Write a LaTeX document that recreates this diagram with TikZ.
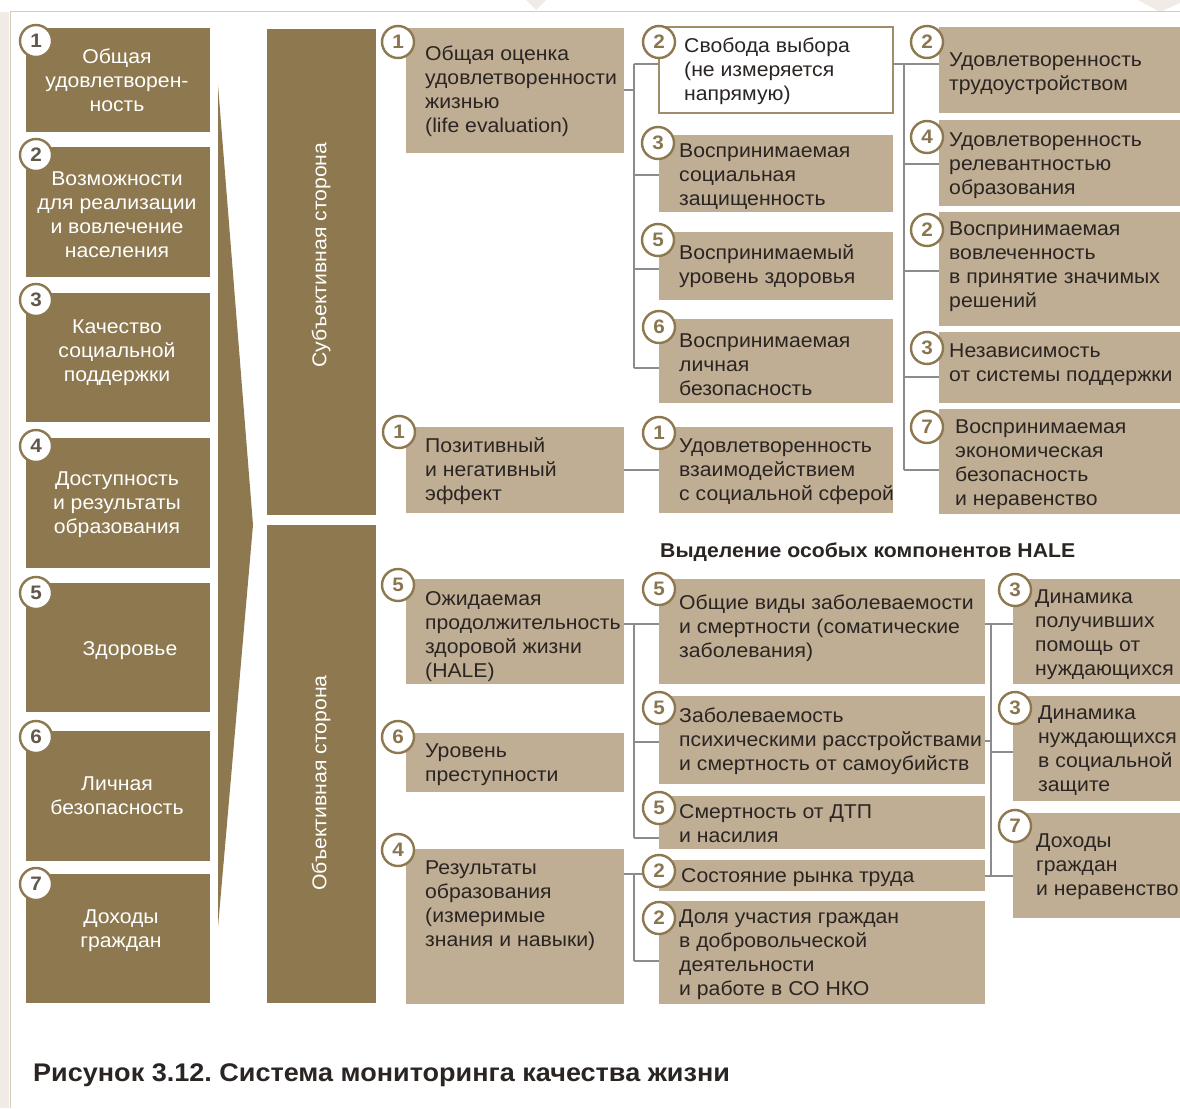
\documentclass[tikz,border=0pt]{standalone}
\usepackage{fontspec}
\setmainfont{Liberation Sans}[FakeStretch=1.06]
\frenchspacing
\definecolor{dkb}{HTML}{8D784F}
\definecolor{ltb}{HTML}{BFAE94}
\definecolor{txt}{HTML}{2A2522}
\definecolor{lnc}{HTML}{8C8C8C}
\definecolor{frm}{HTML}{D6CCBC}
\definecolor{strip}{HTML}{F0ECE5}
\definecolor{bnum}{HTML}{8A7551}
\definecolor{bnumd}{HTML}{62574A}
\definecolor{wbord}{HTML}{A08C66}
\tikzset{
 lbox/.style={fill=ltb, inner sep=0pt, outer sep=0pt},
 dbox/.style={fill=dkb, inner sep=0pt, outer sep=0pt},
 wbox/.style={fill=white, draw=wbord, line width=1.3pt, inner sep=0pt, outer sep=0pt},
 ltext/.style={inner sep=0pt, align=left, text=txt, font=\fontsize{20}{24}\selectfont},
 dtext/.style={inner sep=0pt, align=center, text=white, font=\fontsize{20}{24}\selectfont},
 badge/.style={circle, draw=dkb, line width=2.4pt, fill=white, minimum size=32pt, inner sep=0pt, text=bnum, font=\bfseries\fontsize{19.5}{19.5}\selectfont},
 dbadge/.style={badge, text=bnumd},
 tree/.style={draw=lnc, line width=1.1pt},
 ttl/.style={anchor=base west, inner sep=0pt, text=txt},
}
\newcommand\bx[6][lbox]{\node[#1, minimum width={(#5-#3)*1pt}, minimum height={(#6-#4)*1pt}, anchor=north west] (#2) at (#3,#4) {};}
\newcommand\tx[5][ltext]{\node[#1, anchor=north west] (#2) at (#3,{#4-16}) {\rule{0pt}{16pt}#5};}
\begin{document}
\begin{tikzpicture}[x=1pt, y=-1pt]
\useasboundingbox (0,0) rectangle (1180,1108);
% frame
\fill[strip] (0,12) rectangle (9,1108);
\fill[strip] (526,0) -- (546,0) -- (536,10) -- cycle;
\fill[strip] (1138,0) -- (1180,0) -- (1180,3) -- (1160,12) -- cycle;
\draw[frm, line width=1pt] (10,1108) -- (10,12) -- (1180,12);

% left column
\bx[dbox]{L1}{26}{28}{210}{132}
\bx[dbox]{L2}{26}{147}{210}{277}
\bx[dbox]{L3}{26}{293}{210}{422}
\bx[dbox]{L4}{26}{438}{210}{568}
\bx[dbox]{L5}{26}{583}{210}{712}
\bx[dbox]{L6}{26}{731}{210}{861}
\bx[dbox]{L7}{26}{874}{210}{1003}
\node[dtext] (L1t) at (117,80) {Общая\\удовлетворен-\\ность};
\node[dtext] (L2t) at (117,215) {Возможности\\для реализации\\и вовлечение\\населения};
\node[dtext] (L3t) at (117,353) {Качество\\социальной\\поддержки};
\node[dtext] (L4t) at (117,505) {Доступность\\и результаты\\образования};
\node[dtext] (L5t) at (130,651) {Здоровье};
\node[dtext] (L6t) at (117,796) {Личная\\безопасность};
\node[dtext] (L7t) at (121,931) {Доходы\\граждан};
\node[dbadge] (L1b) at (36,41) {1};
\node[dbadge] (L2b) at (36,155) {2};
\node[dbadge] (L3b) at (36,300) {3};
\node[dbadge] (L4b) at (36,446) {4};
\node[dbadge] (L5b) at (36,593) {5};
\node[dbadge] (L6b) at (36,737) {6};
\node[dbadge] (L7b) at (36,884) {7};

% arrow
\fill[dkb] (218,85) -- (253,525) -- (218,927) -- cycle;

% side bars
\bx[dbox]{S1}{267}{29}{376}{515}
\bx[dbox]{S2}{267}{525}{376}{1003}
\node[dtext, rotate=90] (S1t) at (321,255) {Субъективная сторона};
\node[dtext, rotate=90] (S2t) at (321,783) {Объективная сторона};

% column 2
\bx{B1}{406}{28}{624}{153}
\bx{B2}{406}{427}{624}{513}
\bx{B3}{406}{579}{624}{684}
\bx{B4}{406}{733}{624}{792}
\bx{B5}{406}{849}{624}{1004}
\tx{B1t}{425}{60}{Общая оценка\\удовлетворенности\\жизнью\\(life evaluation)}
\tx{B2t}{425}{452}{Позитивный\\и негативный\\эффект}
\tx{B3t}{425}{605}{Ожидаемая\\продолжительность\\здоровой жизни\\(HALE)}
\tx{B4t}{425}{757}{Уровень\\преступности}
\tx{B5t}{425}{874}{Результаты\\образования\\(измеримые\\знания и навыки)}

% column 3 (top)
\bx[wbox]{C1}{659}{27}{893}{113}
\bx{C2}{659}{135}{893}{212}
\bx{C3}{659}{232}{893}{300}
\bx{C4}{659}{319}{893}{403}
\bx{C5}{659}{427}{893}{513}
\tx{C1t}{684}{52}{Свобода выбора\\(не измеряется\\напрямую)}
\tx{C2t}{679}{157}{Воспринимаемая\\социальная\\защищенность}
\tx{C3t}{679}{259}{Воспринимаемый\\уровень здоровья}
\tx{C4t}{679}{347}{Воспринимаемая\\личная\\безопасность}
\tx{C5t}{679}{452}{Удовлетворенность\\взаимодействием\\с социальной сферой}

% column 4 (top)
\bx{D1}{939}{27}{1180}{113}
\bx{D2}{939}{120}{1180}{206}
\bx{D3}{939}{212}{1180}{326}
\bx{D4}{939}{332}{1180}{403}
\bx{D5}{939}{409}{1180}{514}
\tx{D1t}{949}{66}{Удовлетворенность\\трудоустройством}
\tx{D2t}{949}{146}{Удовлетворенность\\релевантностью\\образования}
\tx{D3t}{949}{235}{Воспринимаемая\\вовлеченность\\в принятие значимых\\решений}
\tx{D4t}{949}{357}{Независимость\\от системы поддержки}
\tx{D5t}{955}{433}{Воспринимаемая\\экономическая\\безопасность\\и неравенство}

% HALE title
\node[ttl, font=\bfseries\fontsize{20}{24}\selectfont] (hale) at (660,557) {Выделение особых компонентов HALE};

% column 3 (bottom)
\bx{E1}{659}{579}{985}{684}
\bx{E2}{659}{696}{985}{784}
\bx{E3}{659}{796}{985}{849}
\bx{E4}{659}{860}{985}{891}
\bx{E5}{659}{901}{985}{1004}
\tx{E1t}{679}{609}{Общие виды заболеваемости\\и смертности (соматические\\заболевания)}
\tx{E2t}{679}{722}{Заболеваемость\\психическими расстройствами\\и смертность от самоубийств}
\tx{E3t}{679}{818}{Смертность от ДТП\\и насилия}
\tx{E4t}{681}{882}{Состояние рынка труда}
\tx{E5t}{679}{923}{Доля участия граждан\\в добровольческой\\деятельности\\и работе в СО НКО}

% column 4 (bottom)
\bx{F1}{1013}{579}{1180}{684}
\bx{F2}{1013}{696}{1180}{801}
\bx{F3}{1013}{813}{1180}{918}
\tx{F1t}{1035}{603}{Динамика\\получивших\\помощь от\\нуждающихся}
\tx{F2t}{1038}{719}{Динамика\\нуждающихся\\в социальной\\защите}
\tx{F3t}{1036}{847}{Доходы\\граждан\\и неравенство}

% connectors: top tree A
\coordinate (a0) at (634,90);
\coordinate (a1) at (634,64);
\coordinate (a2) at (634,175);
\coordinate (a3) at (634,269);
\coordinate (a4) at (634,368);
\draw[tree] (B1.east |- a0) -- (a0);
\draw[tree] (a1) -- (a4);
\draw[tree] (a1) -- (a1 -| C1.west);
\draw[tree] (a2) -- (a2 -| C2.west);
\draw[tree] (a3) -- (a3 -| C3.west);
\draw[tree] (a4) -- (a4 -| C4.west);
% B2 - C5
\coordinate (p0) at (634,470);
\draw[tree] (B2.east |- p0) -- (p0 -| C5.west);
% top tree B
\coordinate (b1) at (904,64);
\coordinate (b2) at (904,164);
\coordinate (b3) at (904,271);
\coordinate (b4) at (904,377);
\coordinate (b5) at (904,470);
\draw[tree] (C1.east |- b1) -- (b1);
\draw[tree] (b1) -- (b5);
\draw[tree] (b1) -- (b1 -| D1.west);
\draw[tree] (b2) -- (b2 -| D2.west);
\draw[tree] (b3) -- (b3 -| D3.west);
\draw[tree] (b4) -- (b4 -| D4.west);
\draw[tree] (b5) -- (b5 -| D5.west);
% bottom tree A
\coordinate (c1) at (634,624);
\coordinate (c2) at (634,742);
\coordinate (c3) at (634,838);
\draw[tree] (B3.east |- c1) -- (c1);
\draw[tree] (c1) -- (c3);
\draw[tree] (c1) -- (c1 -| E1.west);
\draw[tree] (c2) -- (c2 -| E2.west);
\draw[tree] (c3) -- (c3 -| E3.west);
% bottom tree B
\coordinate (d1) at (634,874);
\coordinate (d2) at (634,961);
\draw[tree] (B5.east |- d1) -- (d1);
\draw[tree] (d1) -- (d2);
\draw[tree] (d1) -- (d1 -| E4.west);
\draw[tree] (d2) -- (d2 -| E5.west);
% right tree
\coordinate (e1) at (991,624);
\coordinate (e2) at (991,741);
\coordinate (e3) at (991,752);
\coordinate (e4) at (991,876);
\draw[tree] (E1.east |- e1) -- (e1);
\draw[tree] (E2.east |- e2) -- (e2);
\draw[tree] (E4.east |- e4) -- (e4);
\draw[tree] (e1) -- (e4);
\draw[tree] (e1) -- (e1 -| F1.west);
\draw[tree] (e3) -- (e3 -| F2.west);
\draw[tree] (e4) -- (e4 -| F3.west);

% badges
\node[badge] (B1b) at (398,42) {1};
\node[badge] (B2b) at (399,432) {1};
\node[badge] (B3b) at (398,585) {5};
\node[badge] (B4b) at (398,737) {6};
\node[badge] (B5b) at (398,850) {4};
\node[badge] (C1b) at (659,42) {2};
\node[badge] (C2b) at (658,143) {3};
\node[badge] (C3b) at (658,240) {5};
\node[badge] (C4b) at (659,327) {6};
\node[badge] (C5b) at (659,433) {1};
\node[badge] (D1b) at (927,42) {2};
\node[badge] (D2b) at (927,137) {4};
\node[badge] (D3b) at (927,230) {2};
\node[badge] (D4b) at (927,348) {3};
\node[badge] (D5b) at (927,427) {7};
\node[badge] (E1b) at (659,589) {5};
\node[badge] (E2b) at (659,708) {5};
\node[badge] (E3b) at (659,808) {5};
\node[badge] (E4b) at (659,871) {2};
\node[badge] (E5b) at (659,918) {2};
\node[badge] (F1b) at (1015,590) {3};
\node[badge] (F2b) at (1015,708) {3};
\node[badge] (F3b) at (1015,826) {7};

% caption
\node[ttl, font=\bfseries\fontsize{25.5}{30}\selectfont] (cap) at (33,1081) {Рисунок 3.12. Система мониторинга качества жизни};
\end{tikzpicture}
\end{document}
